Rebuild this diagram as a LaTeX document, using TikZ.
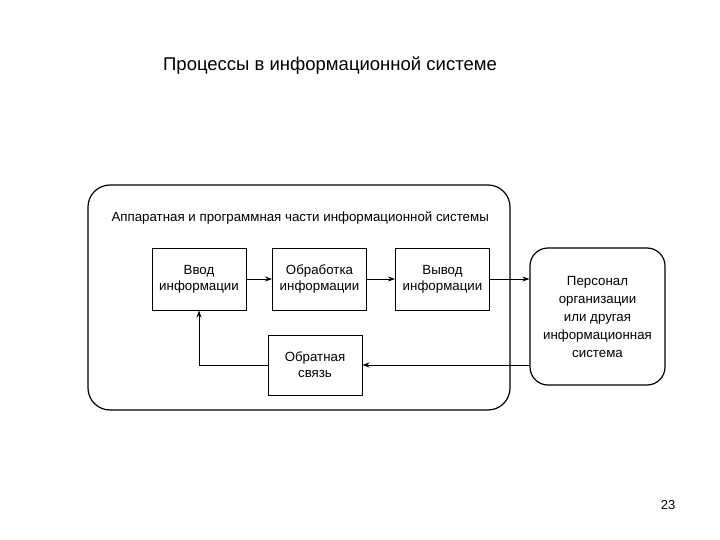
\documentclass[tikz,border=0pt]{standalone}
\usepackage{fontspec}
\setmainfont{Liberation Sans}
\usetikzlibrary{arrows.meta}
\begin{document}
\begin{tikzpicture}[x=1pt,y=-1pt,
  blk/.style={draw,line width=1pt,minimum width=94pt,minimum height=62pt,align=center,font=\fontsize{13.3}{16}\selectfont},
  conn/.style={draw,line width=0.8pt,-{Stealth[length=7pt,width=5pt]}}]
\useasboundingbox (0,0) rectangle (720,540);
\node (title) at (330,66) {\fontsize{18.5}{22}\selectfont Процессы в информационной системе};
\node[draw,line width=1.2pt,rounded corners=22pt,minimum width=422pt,minimum height=225pt] (sys) at (299,297.5) {};
\node[anchor=west,font=\fontsize{13.3}{16}\selectfont] (lab) at (108,218) {Аппаратная и программная части информационной системы};
\node[draw,line width=1.2pt,rounded corners=18pt,minimum width=135pt,minimum height=137pt,align=center,font=\fontsize{13.3}{18}\selectfont] (pers) at (597.5,316.5) {Персонал\\организации\\или другая\\информационная\\система};
\node[blk] (in) at (199,279) {Ввод\\информации};
\node[blk] (proc) at (319.5,279) {Обработка\\информации};
\node[blk] (out) at (442.5,279) {Вывод\\информации};
\node[blk,minimum height=60pt] (fb) at (315,365) {Обратная\\связь};
\draw[conn] (in) -- (proc);
\draw[conn] (proc) -- (out);
\draw[conn] (out.east) -- (pers.west |- out.east);
\draw[conn] (pers.west |- fb.east) -- (fb.east);
\draw[conn] (fb.west) -| (in.south);
\node (num) at (668,505) {\fontsize{13}{15}\selectfont 23};
\end{tikzpicture}
\end{document}
